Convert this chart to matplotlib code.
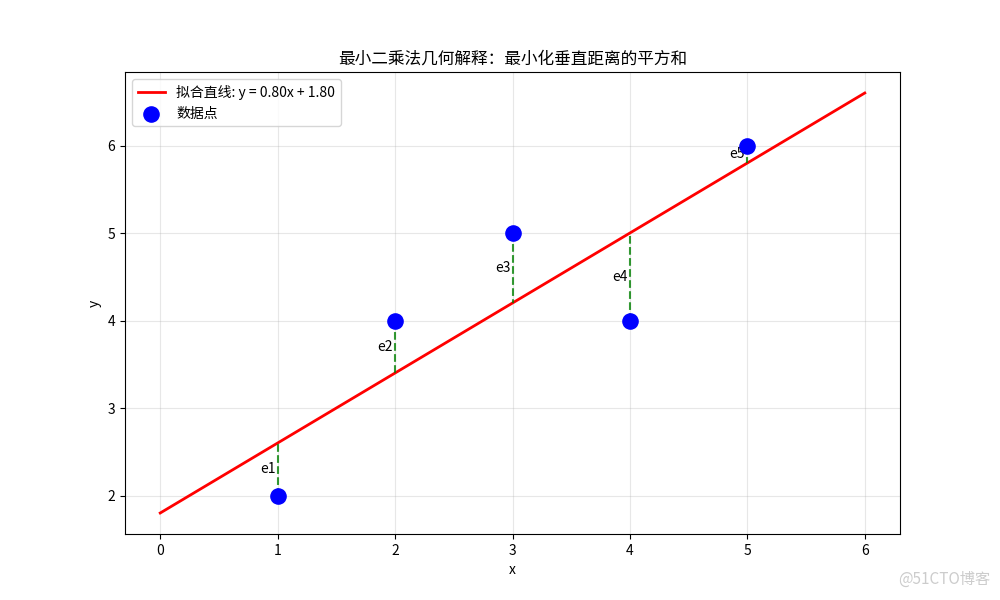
import numpy as np
import matplotlib
matplotlib.use("Agg")
import matplotlib.pyplot as plt

plt.rcParams['font.family'] = ['Noto Sans CJK SC', 'DejaVu Sans']
plt.rcParams['axes.unicode_minus'] = False

x = np.array([1, 2, 3, 4, 5])
y = np.array([2, 4, 5, 4, 6])
labels = ['e1', 'e2', 'e3', 'e4', 'e5']

slope, intercept = np.polyfit(x, y, 1)
xl = np.array([0, 6])

fig, ax = plt.subplots(figsize=(10, 6), dpi=100)
ax.plot(xl, slope * xl + intercept, color='red', lw=2,
        label=f'拟合直线: y = {slope:.2f}x + {intercept:.2f}')
ax.scatter(x, y, s=120, color='blue', zorder=5, label='数据点')
for xi, yi, lab in zip(x, y, labels):
    yp = slope * xi + intercept
    ax.plot([xi, xi], [yi, yp], color='green', ls='--', lw=1.5, alpha=0.8)
    ax.text(xi - 0.02, (yi + yp) / 2, lab, ha='right', va='center', fontsize=10)

ax.set_title('最小二乘法几何解释：最小化垂直距离的平方和')
ax.set_xlabel('x')
ax.set_ylabel('y')
ax.grid(True, alpha=0.3)
ax.legend(loc='upper left')
fig.text(0.99, 0.02, '@51CTO博客', ha='right', va='bottom', color='#cccccc', fontsize=11)
fig.savefig('out.png')
